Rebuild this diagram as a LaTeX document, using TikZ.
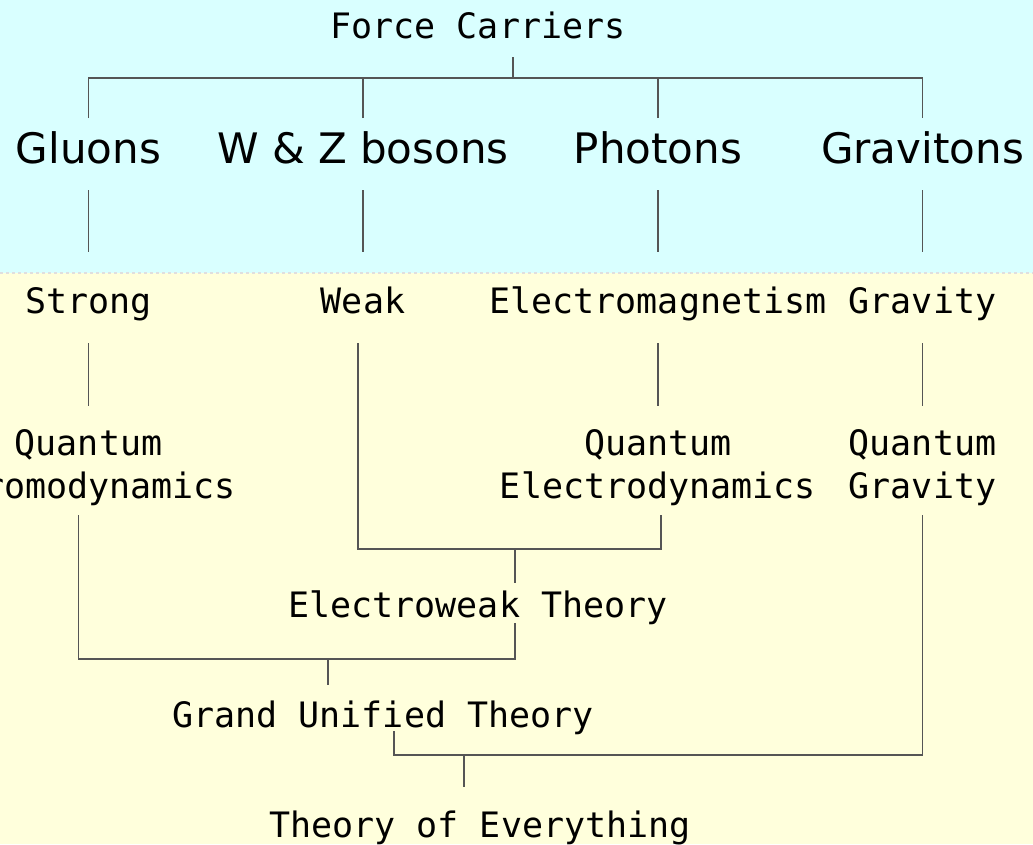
\documentclass[tikz,border=0pt]{standalone}
\usepackage{fontspec}
\setmainfont{DejaVu Sans}
\setmonofont{DejaVu Sans Mono}
\usetikzlibrary{calc}
\definecolor{skybg}{HTML}{D9FFFF}
\definecolor{creambg}{HTML}{FFFFDC}
\definecolor{linkgray}{HTML}{555555}

\begin{document}
\begin{tikzpicture}[x=1pt, y=-1pt,
  carrier/.style={inner sep=0, anchor=base, font=\fontsize{42pt}{50pt}\selectfont},
  theory/.style={inner sep=0, anchor=base, align=center, font=\ttfamily\fontsize{35pt}{43pt}\selectfont},
  theorytwo/.style={theory, anchor=north},
  link/.style={draw=linkgray, line width=1.8pt}
]
\useasboundingbox (0,0) rectangle (1033,844);
\fill[skybg] (0,0) rectangle (1033,273);
\fill[creambg] (0,273) rectangle (1033,844);
\draw[gray!25, dashed, line width=2pt] (0,273) -- (1033,273);

\node[theory] (fc) at (478,38) {Force Carriers};
\node[carrier] (gluons) at (88.5,163) {Gluons};
\node[carrier] (wz) at (363,163) {W \& Z bosons};
\node[carrier] (photons) at (658,163) {Photons};
\node[carrier] (gravitons) at (922.5,163) {Gravitons};

\node[theory] (strong) at (88.5,313) {Strong};
\node[theory] (weak) at (363,313) {Weak};
\node[theory] (em) at (658,313) {Electromagnetism};
\node[theory] (gravity) at (922.5,313) {Gravity};

\node[theorytwo] (qcd) at (88.5,429.5) {Quantum\\Chromodynamics};
\node[theorytwo] (qed) at (658,429.5) {Quantum\\Electrodynamics};
\node[theorytwo] (qg) at (922.5,429.5) {Quantum\\Gravity};

\node[theory] (ew) at (478,617) {Electroweak Theory};
\node[theory] (gut) at (383,727) {Grand Unified Theory};
\node[theory] (toe) at (480,837) {Theory of Everything};

\draw[link] ([xshift=35pt,yshift=-19pt]fc.base) -- ++(0,-21pt) coordinate (fcbar);
\draw[link] ([yshift=45pt]gluons.base) |- (fcbar) -| ([yshift=45pt]gravitons.base);
\draw[link] ([yshift=45pt]wz.base) -- (wz.base |- fcbar);
\draw[link] ([yshift=45pt]photons.base) -- (photons.base |- fcbar);
\foreach \a/\b in {gluons/strong, wz/weak, photons/em, gravitons/gravity}
  \draw[link] ([yshift=-27pt]\a.base) -- ([yshift=61pt]\b.base);
\foreach \a/\b in {strong/qcd, em/qed, gravity/qg}
  \draw[link] ([yshift=-30pt]\a.base) -- ([yshift=24pt]\b.north);

\draw[link] ([xshift=-5pt,yshift=-30pt]weak.base) |- ([xshift=37pt,yshift=68pt]ew.base) coordinate (ewbar)
  -| ([xshift=3pt,yshift=-9pt]qed.south);
\draw[link] (ewbar) -- ([xshift=37pt,yshift=34pt]ew.base);
\draw[link] ([xshift=-10pt,yshift=-9pt]qcd.south) |- ([xshift=-55pt,yshift=68pt]gut.base) coordinate (gutbar)
  -| ([xshift=37pt,yshift=-6pt]ew.base);
\draw[link] (gutbar) -- ([xshift=-55pt,yshift=42pt]gut.base);
\draw[link] ([xshift=11pt,yshift=-4pt]gut.base) |- ([xshift=-16pt,yshift=82pt]toe.base) coordinate (toebar)
  -| ([yshift=-9pt]qg.south);
\draw[link] (toebar) -- ([xshift=-16pt,yshift=50pt]toe.base);
\end{tikzpicture}
\end{document}
